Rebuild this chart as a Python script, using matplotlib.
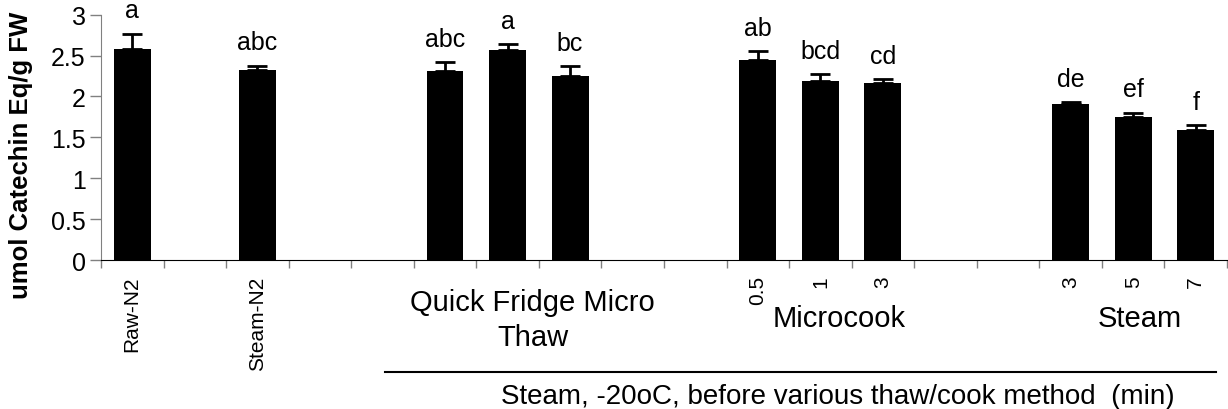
import numpy as np
import matplotlib
matplotlib.use("Agg")
import matplotlib.pyplot as plt

plt.rcParams["font.family"] = ["Liberation Sans", "DejaVu Sans"]

# 18 category slots, blanks are spacer slots between groups
categories = ["Raw-N2", "", "Steam-N2", "", "",
              "", "", "", "", "",
              "0.5", "1", "3", "", "",
              "3", "5", "7"]
values = [2.58, np.nan, 2.32, np.nan, np.nan,
          2.31, 2.57, 2.25, np.nan, np.nan,
          2.45, 2.19, 2.16, np.nan, np.nan,
          1.91, 1.75, 1.585]
errors = [0.19, 0, 0.055, 0, 0,
          0.11, 0.07, 0.12, 0, 0,
          0.10, 0.08, 0.05, 0, 0,
          0.02, 0.05, 0.065]
letters = ["a", "", "abc", "", "",
           "abc", "a", "bc", "", "",
           "ab", "bcd", "cd", "", "",
           "de", "ef", "f"]

fig = plt.figure(figsize=(12.28, 4.10), dpi=100)
ax = fig.add_axes([0.0822, 0.3634, 0.9170, 0.5983])

x = np.arange(len(categories)) + 0.5
vals = np.array(values, dtype=float)
err = np.array(errors, dtype=float)
mask = ~np.isnan(vals)

ax.bar(x[mask], vals[mask], width=0.59, color="black", zorder=2)
ax.errorbar(x[mask], vals[mask], yerr=[np.zeros(mask.sum()), err[mask]],
            fmt="none", ecolor="black", elinewidth=2, capsize=7, capthick=2, zorder=3)

for xi, v, e, lab in zip(x, vals, err, letters):
    if lab:
        ax.text(xi, v + e + 0.14, lab, ha="center", va="bottom", fontsize=18)

ax.set_xlim(0, len(categories))
ax.set_ylim(0, 3)
ax.set_yticks(np.arange(0, 3.01, 0.5))
ax.set_yticklabels(["0", "0.5", "1", "1.5", "2", "2.5", "3"], fontsize=18)
ax.tick_params(axis="y", length=8, width=1, color="#808080", pad=3)

ax.set_xticks(np.arange(0, len(categories) + 1), minor=False)
ax.set_xticklabels([])
ax.set_xticks(x, minor=True)
ax.set_xticklabels(categories, minor=True, rotation=90, fontsize=15, va="top")
ax.tick_params(axis="x", which="major", length=6, width=1, color="#808080")
ax.tick_params(axis="x", which="minor", length=0, pad=11)

for s in ["top", "right"]:
    ax.spines[s].set_visible(False)
ax.spines["left"].set_color("#808080")
ax.spines["bottom"].set_color("black")

ax.set_ylabel("umol Catechin Eq/g FW", fontsize=18.5, fontweight="bold")
ax.yaxis.set_label_coords(-0.0604, 0.43)

# group labels under the axis
trans = ax.get_xaxis_transform()
ax.text(6.9, -0.115, "Quick Fridge Micro\nThaw", transform=trans, ha="center", va="top",
        fontsize=21, linespacing=1.3)
ax.text(11.8, -0.18, "Microcook", transform=trans, ha="center", va="top", fontsize=21)
ax.text(16.6, -0.18, "Steam", transform=trans, ha="center", va="top", fontsize=21)
ax.plot([4.54, 17.82], [-0.455, -0.455], transform=trans, color="black", lw=1.5,
        clip_on=False)
ax.text(11.78, -0.5, "Steam, -20oC, before various thaw/cook method  (min)",
        transform=trans, ha="center", va="top", fontsize=20)

fig.savefig("out.png", dpi=100)
